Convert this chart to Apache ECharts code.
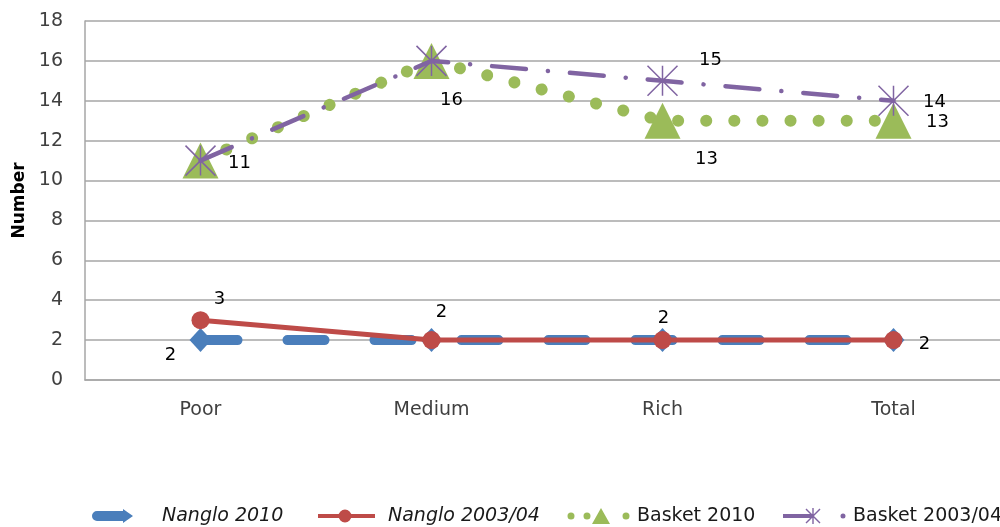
<!DOCTYPE html>
<html>
<head>
<meta charset="utf-8">
<script src="https://cdn.jsdelivr.net/npm/echarts@6/dist/echarts.min.js"></script>
<style>
  html, body { margin: 0; padding: 0; background: #fff; }
  #chart { width: 1000px; height: 527px; }
</style>
</head>
<body>
<div id="chart"></div>
<script>
// Category labels and series values
const categories = ['Poor', 'Medium', 'Rich', 'Total'];
const nanglo2010 = [2, 2, 2, 2];
const nanglo2003 = [3, 2, 2, 2];
const basket2010 = [11, 16, 13, 13];
const basket2003 = [11, 16, 15, 14];

const FONT = 'DejaVu Sans';
const COLORS = {
  blue: '#4A7EBB',
  red: '#BE4B48',
  green: '#9BBB59',
  purple: '#8064A2'
};

// Where each value label sits relative to its point (null = no label)
const labelOffsets = {
  nanglo2010: [[-30, 15], null, null, null],
  nanglo2003: [[19, -21], [10, -28], [1, -22], [31, 4]],
  basket2010: [[39, 3], [20, 39], [44, 39], [44, 2]],
  basket2003: [null, null, [48, -21], [41, 2]]
};

function withLabels(values, offsets) {
  return values.map((v, i) => offsets[i]
    ? { value: v, label: { show: true, offset: offsets[i] } }
    : { value: v });
}

const baseLabel = {
  show: false,
  position: 'inside',
  color: '#000',
  fontFamily: FONT,
  fontSize: 18,
  textBorderWidth: 0
};

// Asterisk marker: vertical stroke plus two diagonals
const starPath = 'path://M0 0 L30 30 M30 0 L0 30 M15 0 L15 30';

// Legend icons (drawn in a 65x20 box; tiny corner points fix the box size)
const box = 'M0 0 L0.01 0 L0 0.01 Z M65 20 L64.99 20 L65 19.99 Z ';
const iconArrow = 'path://' + box +
  'M5 5 L31 5 L31 3 L41 10 L31 17 L31 15 L5 15 A5 5 0 0 1 5 5 Z';
const iconLineDot = 'path://' + box +
  'M0 8 L57 8 L57 12 L0 12 Z M20.5 10 A6.5 6.5 0 1 1 33.5 10 A6.5 6.5 0 1 1 20.5 10 Z';
const iconDotsTri = 'path://' + box +
  'M0.5 10 A3.5 3.5 0 1 1 7.5 10 A3.5 3.5 0 1 1 0.5 10 Z ' +
  'M16.5 10 A3.5 3.5 0 1 1 23.5 10 A3.5 3.5 0 1 1 16.5 10 Z ' +
  'M34 2 L43 18 L25 18 Z ' +
  'M55.5 10 A3.5 3.5 0 1 1 62.5 10 A3.5 3.5 0 1 1 55.5 10 Z';
const iconLineStar = 'path://' + box +
  'M0 8 L30 8 L30 12 L0 12 Z ' +
  'M29.3 2 L30.7 2 L30.7 18 L29.3 18 Z ' +
  'M23.5 2.5 L37.5 16.5 L36.5 17.5 L22.5 3.5 Z ' +
  'M36.5 2.5 L37.5 3.5 L23.5 17.5 L22.5 16.5 Z ' +
  'M57.5 10 A2.5 2.5 0 1 1 62.5 10 A2.5 2.5 0 1 1 57.5 10 Z';

function legendFor(name, left, icon, color, italic) {
  return {
    data: [name],
    left: left,
    top: 506,
    padding: 0,
    icon: icon,
    itemWidth: 65,
    itemHeight: 20,
    selectedMode: false,
    itemStyle: { color: color, borderWidth: 0 },
    textStyle: {
      fontFamily: FONT,
      fontSize: 19,
      fontStyle: italic ? 'italic' : 'normal',
      color: '#1a1a1a'
    }
  };
}

const gridLine = { color: '#a6a6a6', width: 1.5 };

const chart = echarts.init(document.getElementById('chart'), null, { renderer: 'canvas' });

chart.setOption({
  animation: false,
  backgroundColor: '#fff',
  // plot area runs slightly past the right edge of the canvas
  grid: {
    left: 85, width: 924, top: 21, bottom: 147,
    containLabel: false,
    outerBoundsMode: 'none'
  },
  legend: [
    legendFor('Nanglo 2010', 92, iconArrow, COLORS.blue, true),
    legendFor('Nanglo 2003/04', 318, iconLineDot, COLORS.red, true),
    legendFor('Basket 2010', 567, iconDotsTri, COLORS.green, false),
    legendFor('Basket 2003/04', 783, iconLineStar, COLORS.purple, false)
  ],
  xAxis: {
    type: 'category',
    data: categories,
    boundaryGap: true,
    axisLine: { show: true, lineStyle: gridLine },
    axisTick: { show: false },
    axisLabel: { fontFamily: FONT, fontSize: 19, color: '#404040', margin: 21 },
    splitLine: { show: false }
  },
  yAxis: {
    type: 'value',
    min: 0,
    max: 18,
    interval: 2,
    name: 'Number',
    nameLocation: 'middle',
    nameGap: 57,
    nameTextStyle: { fontFamily: FONT, fontSize: 17, fontWeight: 'bold', color: '#000' },
    axisLine: { show: true, lineStyle: gridLine },
    axisTick: { show: false },
    axisLabel: { fontFamily: FONT, fontSize: 19, color: '#404040', margin: 22 },
    splitLine: { show: true, lineStyle: gridLine }
  },
  series: [
    {
      name: 'Nanglo 2010',
      type: 'line',
      data: withLabels(nanglo2010, labelOffsets.nanglo2010),
      symbol: 'diamond',
      symbolSize: [22, 24],
      itemStyle: { color: COLORS.blue },
      lineStyle: { color: COLORS.blue, width: 10, type: [37, 50], cap: 'round' },
      label: baseLabel,
      emphasis: { disabled: true },
      z: 2
    },
    {
      name: 'Nanglo 2003/04',
      type: 'line',
      data: withLabels(nanglo2003, labelOffsets.nanglo2003),
      symbol: 'circle',
      symbolSize: 18,
      itemStyle: { color: COLORS.red },
      lineStyle: { color: COLORS.red, width: 5 },
      label: baseLabel,
      emphasis: { disabled: true },
      z: 3
    },
    {
      name: 'Basket 2010',
      type: 'line',
      data: withLabels(basket2010, labelOffsets.basket2010),
      symbol: 'triangle',
      symbolSize: [36, 36],
      itemStyle: { color: COLORS.green },
      lineStyle: { color: COLORS.green, width: 12, type: [0.1, 28], cap: 'round' },
      label: baseLabel,
      emphasis: { disabled: true },
      z: 4
    },
    {
      name: 'Basket 2003/04',
      type: 'line',
      data: withLabels(basket2003, labelOffsets.basket2003),
      symbol: starPath,
      symbolSize: [30, 30],
      itemStyle: { color: 'rgba(0,0,0,0)', borderColor: COLORS.purple, borderWidth: 1.5 },
      lineStyle: { color: COLORS.purple, width: 4.5, type: [34, 22, 0.1, 22], cap: 'round' },
      label: baseLabel,
      emphasis: { disabled: true },
      z: 5
    }
  ]
});
</script>
</body>
</html>
